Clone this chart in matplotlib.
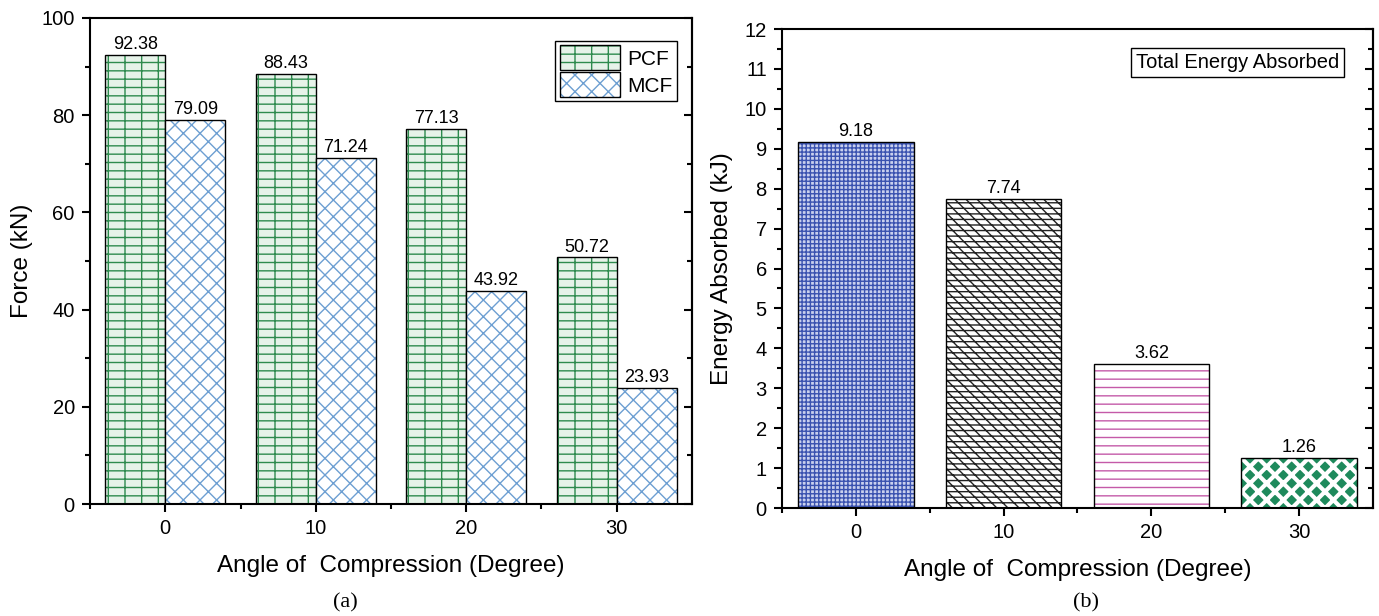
import numpy as np
import matplotlib
matplotlib.use("Agg")
import matplotlib.pyplot as plt
from matplotlib.patches import Patch
from matplotlib.legend_handler import HandlerTuple
from matplotlib.ticker import MultipleLocator, FixedLocator

plt.rcParams['font.family'] = ['Liberation Sans', 'DejaVu Sans']
plt.rcParams['hatch.linewidth'] = 1.0

# data (a): peak / mean crushing force
angles = ['0', '10', '20', '30']
pcf = [92.38, 88.43, 77.13, 50.72]
mcf = [79.09, 71.24, 43.92, 23.93]

# data (b): total energy absorbed
energy = [9.18, 7.74, 3.62, 1.26]

fig = plt.figure(figsize=(13.79, 6.16), dpi=100)
axa = fig.add_axes([0.0653, 0.1818, 0.4365, 0.7890])
axb = fig.add_axes([0.5671, 0.1753, 0.4285, 0.7776])

x = np.arange(len(angles))


def hatched_bars(ax, xpos, vals, width, hatch, hcolor, face='white', hlw=1.0):
    # hatch drawn in its own colour, then a black outline on top
    with plt.rc_context({'hatch.linewidth': hlw}):
        ax.bar(xpos, vals, width, color=face, edgecolor=hcolor, hatch=hatch, linewidth=0)
    ax.bar(xpos, vals, width, fill=False, edgecolor='black', linewidth=1.0)


def style_axes(ax):
    for s in ax.spines.values():
        s.set_linewidth(1.5)
    ax.tick_params(axis='both', which='major', direction='out', length=6, width=1.5, labelsize=14.5, pad=5)
    ax.tick_params(axis='both', which='minor', direction='out', length=3.5, width=1.5)
    sec = ax.secondary_yaxis('right')
    sec.tick_params(axis='y', which='major', direction='in', length=6, width=1.5, labelright=False)
    sec.tick_params(axis='y', which='minor', direction='in', length=3.5, width=1.5)
    sec.yaxis.set_major_locator(ax.yaxis.get_major_locator())
    sec.yaxis.set_minor_locator(ax.yaxis.get_minor_locator())
    sec.spines['right'].set_linewidth(1.5)


# ---- panel (a)
w = 0.4
pcf_col = '#2e8b4e'
mcf_col = '#6d9fd2'
hatched_bars(axa, x - w / 2, pcf, w, '-+', pcf_col, face='#e6f3e9')
hatched_bars(axa, x + w / 2, mcf, w, 'xx', mcf_col)
for xi, v in zip(x - w / 2, pcf):
    axa.text(xi, v + 0.4, '%.2f' % v, ha='center', va='bottom', fontsize=13)
for xi, v in zip(x + w / 2, mcf):
    axa.text(xi, v + 0.4, '%.2f' % v, ha='center', va='bottom', fontsize=13)

axa.set_xlim(-0.5, 3.5)
axa.set_ylim(0, 100)
axa.set_xticks(x)
axa.set_xticklabels(angles)
axa.xaxis.set_minor_locator(FixedLocator(x - 0.5))
axa.yaxis.set_major_locator(MultipleLocator(20))
axa.yaxis.set_minor_locator(MultipleLocator(10))
axa.set_xlabel('Angle of  Compression (Degree)', fontsize=17.5, labelpad=12)
axa.set_ylabel('Force (kN)', fontsize=17.5, labelpad=6)
style_axes(axa)

h_pcf = (Patch(facecolor='#e6f3e9', edgecolor=pcf_col, hatch='-+', linewidth=0),
         Patch(fill=False, edgecolor='black', linewidth=1.0))
h_mcf = (Patch(facecolor='white', edgecolor=mcf_col, hatch='xx', linewidth=0),
         Patch(fill=False, edgecolor='black', linewidth=1.0))
leg = axa.legend([h_pcf, h_mcf], ['PCF', 'MCF'], handler_map={tuple: HandlerTuple(ndivide=1)},
                 loc='upper right', bbox_to_anchor=(0.985, 0.965), fontsize=15,
                 fancybox=False, edgecolor='black', framealpha=1,
                 handlelength=2.9, handleheight=1.45, handletextpad=0.35,
                 borderpad=0.2, labelspacing=0.1, borderaxespad=0.3)
leg.get_frame().set_linewidth(1.0)

# ---- panel (b)
wb = 0.78
hatched_bars(axb, x[0], energy[0], wb, '++++', '#3a52b0', face='#c9d0ee')
hatched_bars(axb, x[1], energy[1], wb, '---\\\\\\', '#222222')
hatched_bars(axb, x[2], energy[2], wb, '--', '#c45aa8')
hatched_bars(axb, x[3], energy[3], wb, 'xx', 'white', face='#1e8a5c', hlw=3.0)
for xi, v in zip(x, energy):
    axb.text(xi, v + 0.04, '%.2f' % v, ha='center', va='bottom', fontsize=13)

axb.set_xlim(-0.5, 3.5)
axb.set_ylim(0, 12)
axb.set_xticks(x)
axb.set_xticklabels(angles)
axb.xaxis.set_minor_locator(FixedLocator(x - 0.5))
axb.yaxis.set_major_locator(MultipleLocator(1))
axb.yaxis.set_minor_locator(MultipleLocator(0.5))
axb.set_xlabel('Angle of  Compression (Degree)', fontsize=17.5, labelpad=12)
axb.set_ylabel('Energy Absorbed (kJ)', fontsize=17.5, labelpad=8)
style_axes(axb)
axb.text(0.943, 0.931, 'Total Energy Absorbed', transform=axb.transAxes, ha='right', va='center',
         fontsize=14.5, bbox=dict(boxstyle='square,pad=0.25', facecolor='white', edgecolor='black', linewidth=1.0))

fig.text(345 / 1379, 1 - 603 / 616, '(a)', ha='center', va='center', fontsize=16, family='Liberation Serif')
fig.text(1086 / 1379, 1 - 603 / 616, '(b)', ha='center', va='center', fontsize=16, family='Liberation Serif')

fig.savefig('out.png', dpi=100)
